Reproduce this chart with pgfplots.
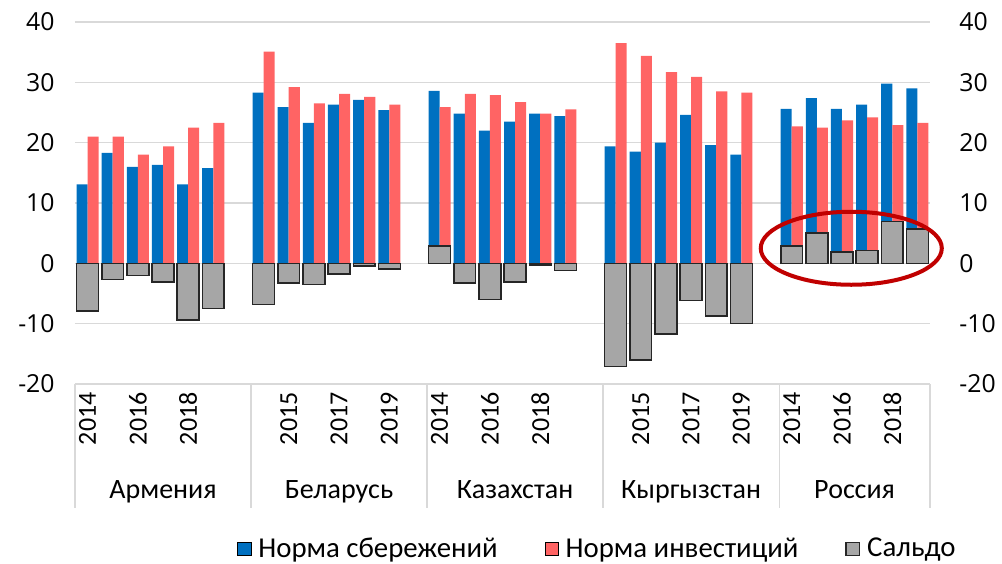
\documentclass[border=0pt]{standalone}
\usepackage{fontspec}
\setmainfont{Carlito}
\newfontfamily\tickfont{Open Sans}
\usepackage{pgfplots}
\pgfplotsset{compat=1.18}
\usepackage{pgfplotstable}

\definecolor{savblue}{HTML}{0070C0}
\definecolor{invred}{HTML}{FF6464}
\definecolor{balgray}{HTML}{A6A6A6}
\definecolor{gridgray}{HTML}{D9D9D9}
\definecolor{circred}{HTML}{C00000}

% x = slot position (6 years per country, one empty slot between countries)
\pgfplotstableread{
x  sav  inv   bal
0  13.1 21.0 -7.9
1  18.3 21.0 -2.7
2  16.0 18.0 -2.0
3  16.3 19.4 -3.1
4  13.1 22.5 -9.4
5  15.8 23.3 -7.5
7  28.3 35.1 -6.8
8  25.9 29.2 -3.3
9  23.3 26.5 -3.5
10 26.3 28.1 -1.8
11 27.1 27.6 -0.4
12 25.4 26.3 -0.9
14 28.6 25.9  2.9
15 24.8 28.1 -3.3
16 22.0 27.9 -6.0
17 23.5 26.7 -3.1
18 24.8 24.8 -0.3
19 24.4 25.5 -1.2
21 19.4 36.5 -17.1
22 18.5 34.4 -16.0
23 20.0 31.7 -11.7
24 24.6 30.9 -6.2
25 19.6 28.5 -8.7
26 18.0 28.3 -10.0
28 25.6 22.7  2.9
29 27.4 22.5  5.0
30 25.6 23.7  1.9
31 26.3 24.2  2.1
32 29.8 22.9  6.9
33 29.0 23.3  5.7
}\rates

\pgfplotsset{base/.style={
  scale only axis, width=427.5pt, height=181pt,
  at={(0pt,0pt)}, anchor=south west,
  xmin=-0.5, xmax=33.5, ymin=-20, ymax=40,
  ytick={-20,-10,0,10,20,30,40},
  yticklabels={-20,-10,0,10,20,30,40},
  yticklabel style={font=\fontsize{12.4}{14}\tickfont, inner sep=0pt},
  major tick length=0pt,
  axis line style={draw=none},
  clip=false,
}}

\begin{document}
\begin{tikzpicture}
\useasboundingbox (-37.5pt,-89.5pt) rectangle (463.5pt,192pt);
\begin{axis}[base,
  ymajorgrids, grid style={gridgray, line width=0.6pt},
  xtick={0,2,4,8,10,12,14,16,18,22,24,26,28,30,32},
  xticklabels={2014,2016,2018,2015,2017,2019,2014,2016,2018,2015,2017,2019,2014,2016,2018},
  xticklabel style={rotate=90, anchor=east, inner sep=0pt, font=\fontsize{13}{15}\selectfont},
  xticklabel shift=4pt,
  yticklabel shift=10pt,
  legend columns=3,
  legend style={draw=none, fill=none, at={(0.614,-0.456)}, anchor=center,
    font=\fontsize{14.4}{16}\selectfont,
    nodes={inner sep=3.5pt},
    /tikz/every even column/.append style={column sep=20pt}},
  legend image code/.code={\draw[#1] (0pt,-3.3pt) rectangle (6.6pt,3.3pt);},
]
\addplot[ybar, bar width=0.44, bar shift=-0.22, fill=savblue, draw=none]
  table[x=x, y=sav] {\rates};
\addlegendentry{Норма сбережений}
\addplot[ybar, bar width=0.44, bar shift=0.22, fill=invred, draw=none]
  table[x=x, y=inv] {\rates};
\addlegendentry{Норма инвестиций}
\addplot[ybar, bar width=0.87, bar shift=0, fill=balgray, draw=black!85, line width=0.75pt]
  table[x=x, y=bal] {\rates};
\addlegendentry{Сальдо}

\pgfplotsinvokeforeach{-0.5,6.5,13.5,20.5,27.5,33.5}{
  \draw[gridgray, line width=0.6pt] (axis cs:#1,-20) -- (axis cs:#1,-40.55);
}
\node[anchor=base, font=\fontsize{14}{16}\selectfont] at (axis cs:3,-38.9) {Армения};
\node[anchor=base, font=\fontsize{14}{16}\selectfont] at (axis cs:10,-38.9) {Беларусь};
\node[anchor=base, font=\fontsize{14}{16}\selectfont] at (axis cs:17,-38.9) {Казахстан};
\node[anchor=base, font=\fontsize{14}{16}\selectfont] at (axis cs:24,-38.9) {Кыргызстан};
\node[anchor=base, font=\fontsize{14}{16}\selectfont] at (axis cs:30.5,-38.9) {Россия};

\draw[circred, line width=2pt] (axis cs:30.37,2.5) ellipse [x radius=3.6, y radius=6.05];
\end{axis}

\begin{axis}[base,
  axis x line=none, axis y line*=right,
  xtick=\empty,
  yticklabel shift=14.5pt,
]
\end{axis}
\end{tikzpicture}
\end{document}
